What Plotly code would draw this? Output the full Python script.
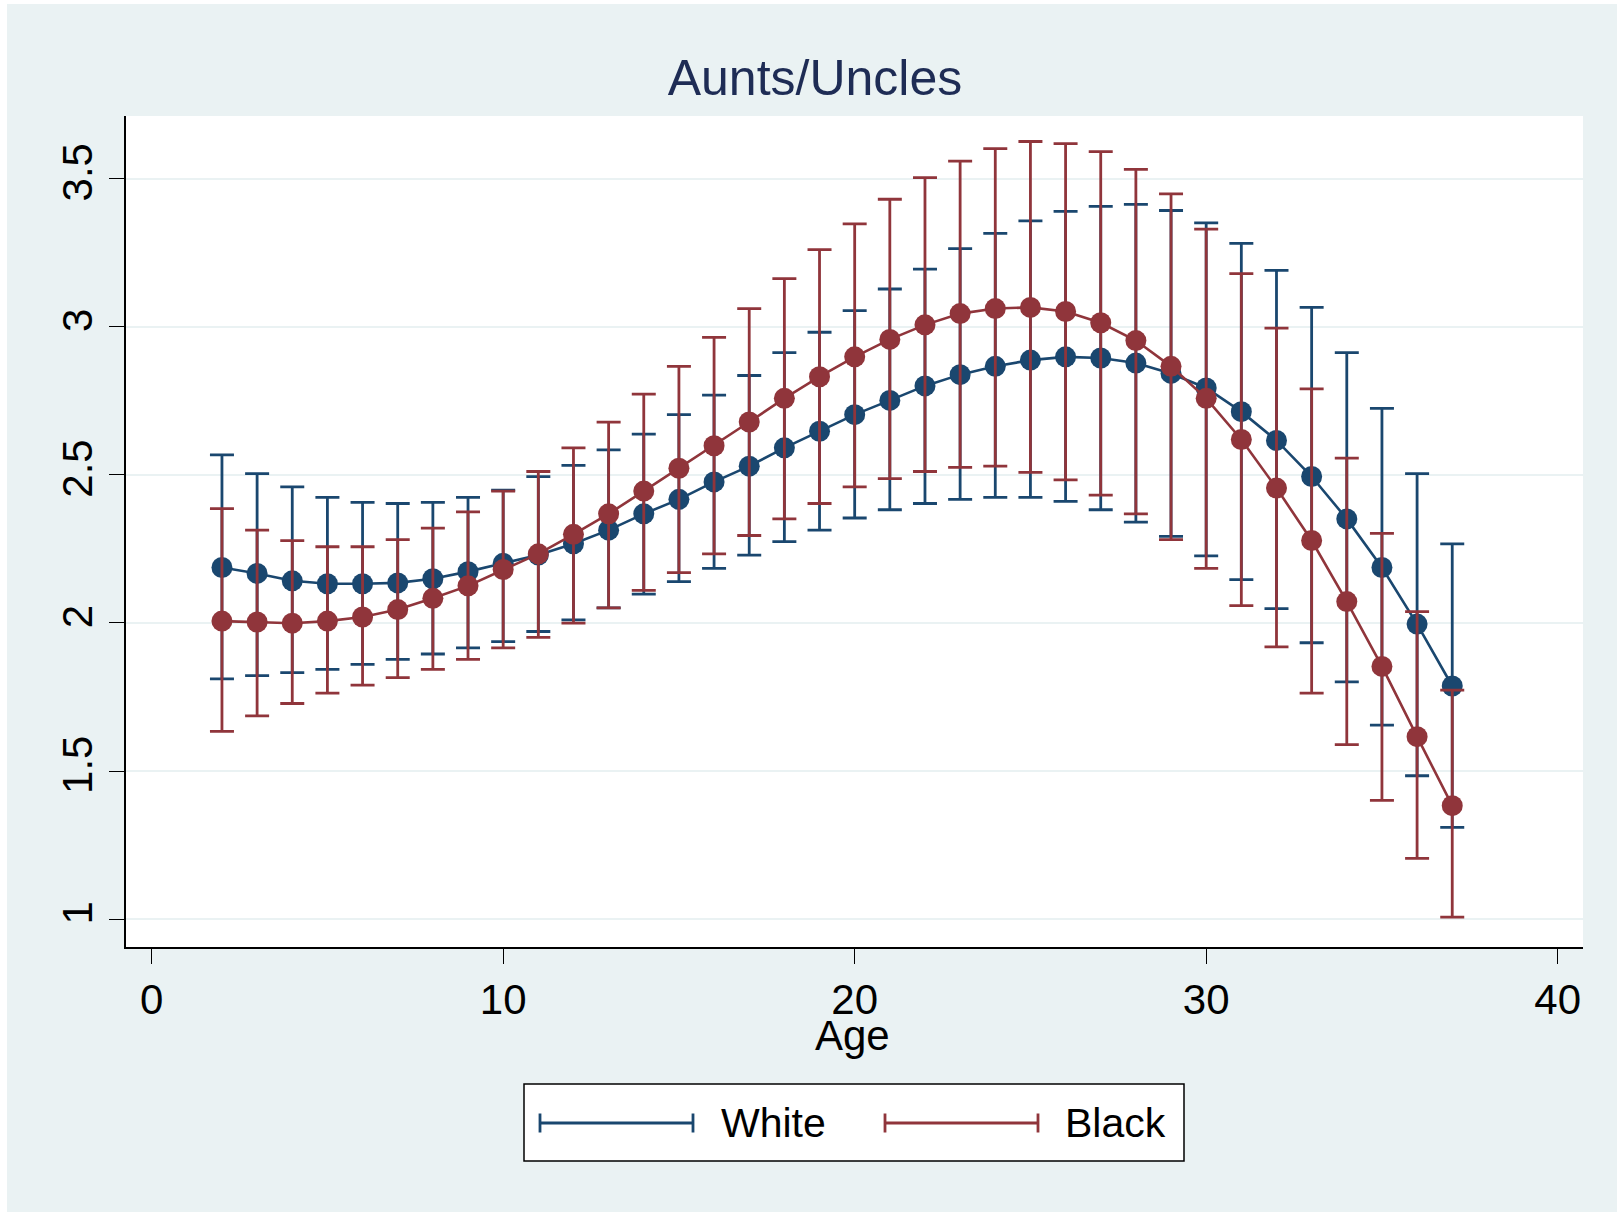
import plotly.graph_objects as go

# Predicted number of living aunts/uncles by age, with 95% confidence bounds
ages = list(range(2, 38))

white_mean = [2.187, 2.167, 2.142, 2.132, 2.132, 2.135, 2.149, 2.173, 2.201, 2.229,
              2.267, 2.313, 2.368, 2.417, 2.476, 2.529, 2.591, 2.647, 2.703, 2.751,
              2.800, 2.838, 2.866, 2.887, 2.898, 2.894, 2.877, 2.842, 2.793, 2.713,
              2.616, 2.494, 2.351, 2.187, 1.996, 1.787]
white_upper = [2.567, 2.504, 2.459, 2.424, 2.407, 2.403, 2.407, 2.424, 2.448, 2.494,
               2.532, 2.584, 2.637, 2.703, 2.769, 2.835, 2.912, 2.981, 3.054, 3.127,
               3.194, 3.263, 3.315, 3.357, 3.389, 3.406, 3.413, 3.392, 3.350, 3.281,
               3.190, 3.065, 2.912, 2.724, 2.504, 2.267]
white_lower = [1.811, 1.822, 1.832, 1.843, 1.860, 1.877, 1.895, 1.916, 1.937, 1.971,
               2.010, 2.051, 2.097, 2.139, 2.184, 2.229, 2.274, 2.313, 2.354, 2.382,
               2.403, 2.417, 2.424, 2.424, 2.410, 2.382, 2.340, 2.292, 2.226, 2.146,
               2.048, 1.933, 1.801, 1.655, 1.484, 1.310]

black_mean = [2.006, 2.003, 1.999, 2.006, 2.020, 2.045, 2.083, 2.125, 2.180, 2.233,
              2.299, 2.368, 2.445, 2.522, 2.598, 2.678, 2.758, 2.831, 2.898, 2.957,
              3.006, 3.044, 3.061, 3.065, 3.051, 3.013, 2.953, 2.866, 2.758, 2.619,
              2.455, 2.278, 2.072, 1.853, 1.616, 1.383]
black_upper = [2.386, 2.313, 2.278, 2.257, 2.257, 2.281, 2.320, 2.375, 2.445, 2.511,
               2.591, 2.678, 2.772, 2.866, 2.964, 3.061, 3.162, 3.260, 3.347, 3.430,
               3.503, 3.559, 3.601, 3.625, 3.618, 3.591, 3.531, 3.448, 3.329, 3.179,
               2.995, 2.790, 2.556, 2.302, 2.038, 1.773]
black_lower = [1.634, 1.686, 1.728, 1.763, 1.790, 1.815, 1.843, 1.877, 1.916, 1.951,
               1.999, 2.051, 2.110, 2.170, 2.233, 2.295, 2.351, 2.403, 2.459, 2.487,
               2.511, 2.525, 2.529, 2.508, 2.483, 2.431, 2.368, 2.281, 2.184, 2.058,
               1.919, 1.763, 1.589, 1.401, 1.205, 1.007]

x_ticks = [0, 10, 20, 30, 40]
y_ticks = [1, 1.5, 2, 2.5, 3, 3.5]
y_tick_labels = ["1", "1.5", "2", "2.5", "3", "3.5"]

NAVY = "#1A476F"
MAROON = "#90353B"
BG = "#EAF2F3"
FONT = "Liberation Sans, Arial, sans-serif"

W, H = 1617, 1212
ML, MR, MT, MB = 126, 34, 116, 265
PW, PH = W - ML - MR, H - MT - MB


def px_x(px):
    return (px - ML) / PW


def px_y(py):
    return (H - MB - py) / PH


series = [
    ("White", white_mean, white_upper, white_lower, NAVY),
    ("Black", black_mean, black_upper, black_lower, MAROON),
]

fig = go.Figure()
for name, mean, upper, lower, color in series:
    fig.add_trace(go.Scatter(
        x=ages, y=mean, name=name, mode="lines+markers",
        line=dict(color=color, width=2.6),
        marker=dict(color=color, size=21, symbol="circle"),
        error_y=dict(type="data", symmetric=False,
                     array=[u - m for u, m in zip(upper, mean)],
                     arrayminus=[m - l for m, l in zip(mean, lower)],
                     color=color, thickness=2.8, width=12),
        showlegend=False, hoverinfo="skip",
    ))

shapes = [
    # white frame strips on the left and top edges
    dict(type="rect", xref="paper", yref="paper", x0=px_x(0), x1=px_x(7),
         y0=px_y(H), y1=px_y(0), fillcolor="white", line=dict(width=0)),
    dict(type="rect", xref="paper", yref="paper", x0=px_x(0), x1=px_x(W),
         y0=px_y(4), y1=px_y(0), fillcolor="white", line=dict(width=0)),
    # legend box
    dict(type="rect", xref="paper", yref="paper", x0=px_x(524), x1=px_x(1184),
         y0=px_y(1161), y1=px_y(1084), fillcolor="white",
         line=dict(color="black", width=1.5)),
]

annotations = [
    dict(text="Age", xref="paper", yref="paper", x=px_x(852), y=px_y(1035),
         xanchor="center", yanchor="middle", showarrow=False,
         font=dict(family=FONT, size=42, color="black")),
]
legend_items = [("White", NAVY, 540, 693, 719), ("Black", MAROON, 885, 1038, 1063)]
ly = 1123
for label, color, x0, x1, tx in legend_items:
    shapes.append(dict(type="line", xref="paper", yref="paper",
                       x0=px_x(x0), x1=px_x(x1), y0=px_y(ly), y1=px_y(ly),
                       line=dict(color=color, width=2.8)))
    for xc in (x0, x1):
        shapes.append(dict(type="line", xref="paper", yref="paper",
                           x0=px_x(xc), x1=px_x(xc), y0=px_y(ly - 9.5), y1=px_y(ly + 9.5),
                           line=dict(color=color, width=2.8)))
    annotations.append(dict(text=label, xref="paper", yref="paper",
                            x=px_x(tx), y=px_y(ly), xanchor="left", yanchor="middle",
                            showarrow=False, font=dict(family=FONT, size=41, color="black")))

fig.update_layout(
    width=W, height=H,
    margin=dict(l=ML, r=MR, t=MT, b=MB, pad=0),
    paper_bgcolor=BG, plot_bgcolor="white",
    title=dict(text="Aunts/Uncles", x=815 / W, xref="container", xanchor="center",
               y=1 - 77 / H, yref="container", yanchor="middle",
               font=dict(family=FONT, size=50, color="#1E2C55")),
    xaxis=dict(range=[-0.73, 40.72], tickvals=x_ticks, ticks="outside", ticklen=15,
               tickwidth=1.2, tickcolor="black", showline=True, linecolor="black",
               linewidth=2, showgrid=False, zeroline=False,
               tickfont=dict(family=FONT, size=42, color="black")),
    yaxis=dict(range=[0.906, 3.711], tickvals=y_ticks, ticktext=y_tick_labels,
               tickangle=-90, ticks="outside", ticklen=15, tickwidth=1.2,
               tickcolor="black", showline=True, linecolor="black", linewidth=2,
               showgrid=True, gridcolor=BG, gridwidth=2, zeroline=False,
               tickfont=dict(family=FONT, size=42, color="black")),
    shapes=shapes,
    annotations=annotations,
    showlegend=False,
)

fig.write_html("out.html")
